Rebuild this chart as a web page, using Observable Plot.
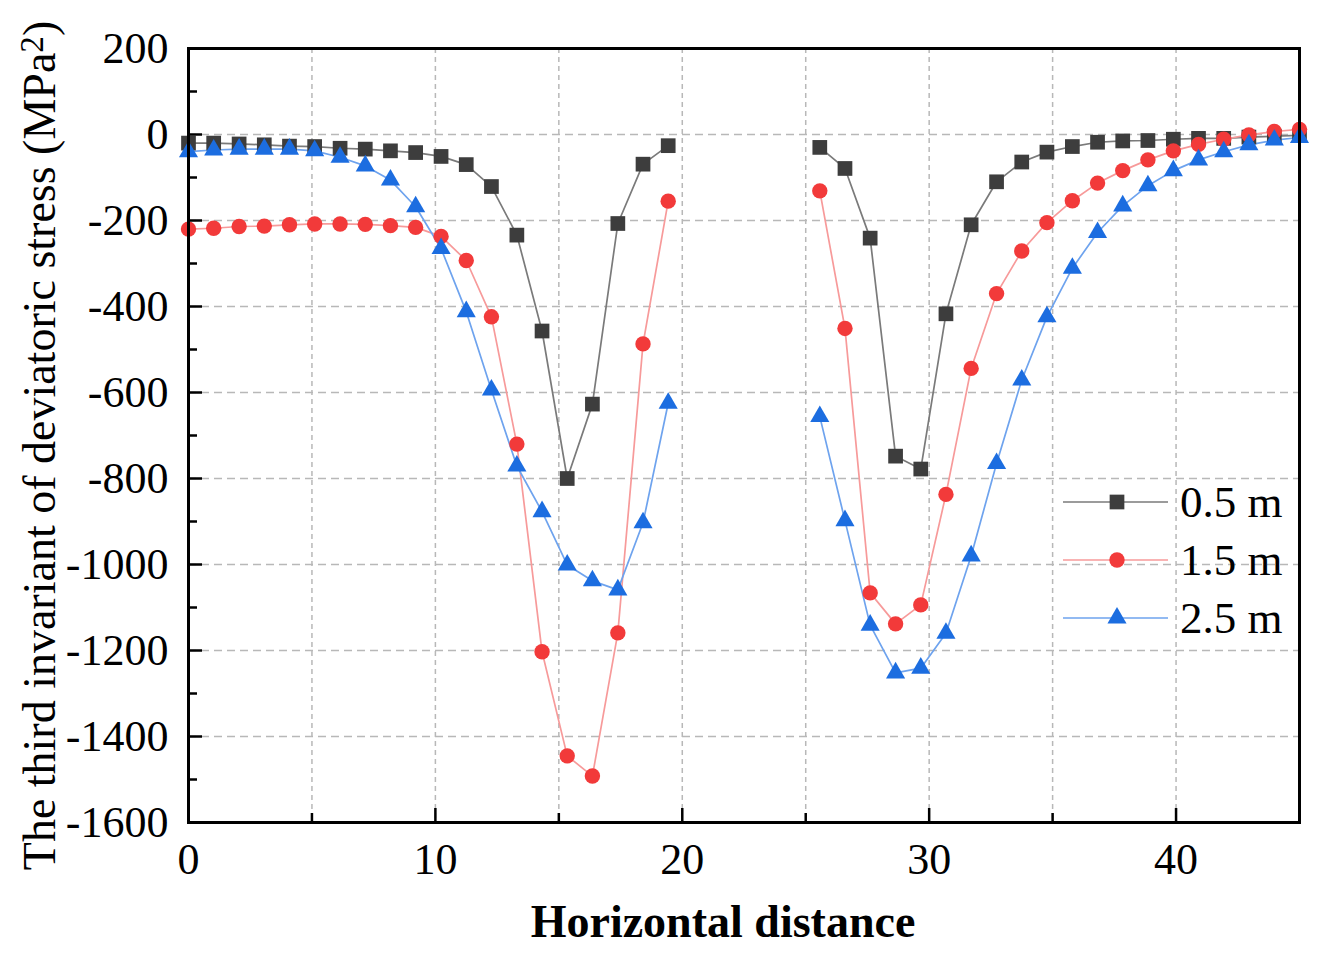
<!DOCTYPE html>
<html><head><meta charset="utf-8">
<script src="https://cdn.jsdelivr.net/npm/d3@7"></script>
<script src="https://cdn.jsdelivr.net/npm/@observablehq/plot@0.6"></script>
<style>
body{margin:0;background:#fff}
#chart{position:relative;width:1329px;height:964px}
</style>
</head><body><div id="chart"></div>
<script>
// Horizontal distance of each measuring point (two groups, gap in the middle)
const distance = [0, 1.02, 2.05, 3.07, 4.09, 5.11, 6.14, 7.16, 8.18, 9.2, 10.23, 11.25, 12.27, 13.3, 14.32, 15.34, 16.36, 17.39, 18.41, 19.43,
  25.57, 26.59, 27.61, 28.64, 29.66, 30.68, 31.7, 32.73, 33.75, 34.77, 35.8, 36.82, 37.84, 38.86, 39.89, 40.91, 41.93, 42.95, 43.98, 45];
const group = ["left","left","left","left","left","left","left","left","left","left","left","left","left","left","left","left","left","left","left","left",
  "right","right","right","right","right","right","right","right","right","right","right","right","right","right","right","right","right","right","right","right"];
const seriesNames = ["0.5 m", "1.5 m", "2.5 m"];
const stress05 = [-20, -20, -22, -24, -27, -28, -32, -34, -38, -42, -51, -70, -121, -234, -457, -800, -627, -207, -69, -26,
  -30, -79, -241, -748, -778, -417, -210, -110, -64, -41, -28, -18, -15, -14, -11, -9, -9, -6, -4, -2];
const stress15 = [-220, -218, -214, -213, -210, -208, -208, -209, -212, -216, -237, -293, -424, -720, -1203, -1445, -1492, -1159, -487, -155,
  -131, -451, -1066, -1138, -1094, -837, -544, -370, -271, -205, -154, -113, -84, -59, -38, -23, -11, -1, 7, 12];
const stress25 = [-40, -36, -34, -34, -34, -38, -53, -73, -106, -168, -265, -412, -594, -771, -877, -1001, -1038, -1059, -903, -625,
  -656, -898, -1141, -1252, -1241, -1160, -980, -765, -571, -424, -311, -228, -166, -119, -84, -59, -40, -24, -13, -7];
const xTicks = [0, 10, 20, 30, 40];
const xMinorTicks = [5, 15, 25, 35];
const xGrid = [5, 10, 15, 20, 25, 30, 35, 40];
const yTicks = [-1600, -1400, -1200, -1000, -800, -600, -400, -200, 0, 200];
const yMinorTicks = [-1500, -1300, -1100, -900, -700, -500, -300, -100, 100];
const yGrid = [-1400, -1200, -1000, -800, -600, -400, -200, 0];

const markerColors = ["#3d3d3d", "#f23a3a", "#1c6de0"];
const lineColors = ["#7a7a7a", "#f79a9a", "#6ea3ee"];
const symbols = ["square", "circle", "triangle"];
const radii = [8.3, 7.7, 7.1];

const W = 1329, H = 964, ML = 188, MR = 30, MT = 48, MB = 142;
const plotW = W - ML - MR, plotH = H - MT - MB;

const allValues = [stress05, stress15, stress25];
const rows = [];
allValues.forEach((vals, s) => vals.forEach((v, i) => rows.push({x: distance[i], y: v, series: seriesNames[s], seg: group[i], s})));

const marks = [
  Plot.ruleY(yGrid, {y: d => d, stroke: "#b8b8b8", strokeWidth: 1.5, strokeDasharray: "8,5"}),
  Plot.ruleX(xGrid, {x: d => d, stroke: "#b8b8b8", strokeWidth: 1.5, strokeDasharray: "5,4"})
];
seriesNames.forEach((name, s) => {
  const data = rows.filter(d => d.s === s);
  marks.push(Plot.line(data, {x: "x", y: "y", z: "seg", stroke: lineColors[s], strokeWidth: 1.7}));
});
seriesNames.forEach((name, s) => {
  const data = rows.filter(d => d.s === s);
  marks.push(Plot.dot(data, {x: "x", y: "y", symbol: symbols[s], r: radii[s], fill: markerColors[s], stroke: "none"}));
});
marks.push(
  Plot.tickY(yTicks, {y: d => d, insetRight: plotW - 14, stroke: "black", strokeWidth: 2.5}),
  Plot.tickY(yMinorTicks, {y: d => d, insetRight: plotW - 9, stroke: "black", strokeWidth: 2.5}),
  Plot.tickX(xTicks, {x: d => d, insetTop: plotH - 14, stroke: "black", strokeWidth: 2.5}),
  Plot.tickX(xMinorTicks, {x: d => d, insetTop: plotH - 9, stroke: "black", strokeWidth: 2.5}),
  Plot.frame({stroke: "black", strokeWidth: 3}),
  Plot.axisY({ticks: yTicks, tickSize: 0, tickPadding: 20, tickFormat: d => String(d), fontSize: 44, label: null}),
  Plot.axisX({ticks: xTicks, tickSize: 0, tickPadding: 20, tickFormat: d => String(d), fontSize: 44, label: null}),
  Plot.text(["The third invariant of deviatoric stress (MPa²)"], {frameAnchor: "left", dx: -148, dy: 10, rotate: -90, fontSize: 46, textAnchor: "middle", lineAnchor: "middle", fill: "black"}),
  Plot.text(["Horizontal distance"], {frameAnchor: "bottom", dx: -21, dy: 100, fontSize: 46, fontWeight: "bold", textAnchor: "middle", lineAnchor: "middle", fill: "black"})
);

const chart = Plot.plot({
  width: W, height: H,
  marginLeft: ML, marginRight: MR, marginTop: MT, marginBottom: MB,
  style: {fontFamily: "'Liberation Serif', 'Times New Roman', serif", background: "white", color: "black", overflow: "visible"},
  x: {domain: [0, 45]},
  y: {domain: [-1600, 200]},
  marks
});
document.getElementById("chart").appendChild(chart);

const svg = d3.select(chart);
// Superscript "2" in the y title
svg.selectAll("text").filter(function() { return this.textContent === "The third invariant of deviatoric stress (MPa²)"; })
  .each(function() {
    const t = d3.select(this);
    t.text(null);
    t.append("tspan").text("The third invariant of deviatoric stress (MPa");
    t.append("tspan").attr("dy", "-0.38em").attr("font-size", "0.72em").text("2");
    t.append("tspan").attr("dy", "0.27em").text(")");
  });

// Legend (inside the plot area, right side)
const lg = svg.append("g").attr("class", "legend").attr("text-anchor", "start");
seriesNames.forEach((name, s) => {
  const cy = 502 + s * 58;
  lg.append("line").attr("x1", 1063).attr("x2", 1168).attr("y1", cy).attr("y2", cy)
    .attr("stroke", lineColors[s]).attr("stroke-width", 1.7);
  const sym = d3.symbol().type(s === 0 ? d3.symbolSquare : s === 1 ? d3.symbolCircle : d3.symbolTriangle)
    .size(Math.PI * radii[s] * radii[s]);
  lg.append("path").attr("d", sym()).attr("transform", `translate(1117,${cy})`).attr("fill", markerColors[s]);
  lg.append("text").attr("x", 1180).attr("y", cy).attr("dy", "0.34em")
    .attr("font-size", 45).attr("fill", "black").text(name);
});
</script>
</body></html>
